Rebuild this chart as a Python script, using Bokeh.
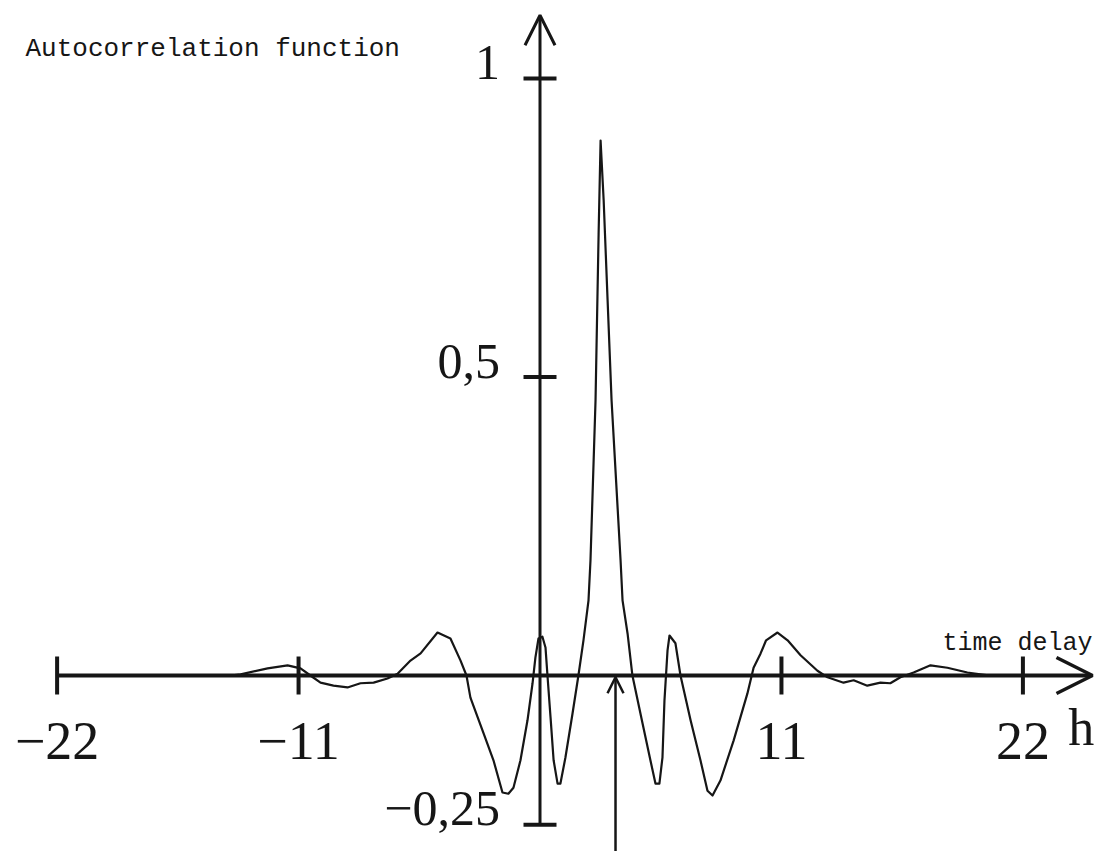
import numpy as np
from bokeh.plotting import figure
from bokeh.models import Arrow, OpenHead, Range1d
from bokeh.core.properties import value
from bokeh.embed import file_html
from bokeh.resources import INLINE

# ---- data ----
lag_h = [-14.10, -13.64, -12.41, -11.50, -10.91, -10.46, -10.00, -9.41, -8.77, -8.18,
         -7.58, -6.95, -6.49, -5.90, -5.44, -4.67, -4.08, -3.62, -3.35, -3.17,
         -2.57, -2.12, -1.71, -1.44, -1.21, -0.89, -0.57, -0.34, -0.21, -0.07,
         0.11, 0.25, 0.34, 0.48, 0.62, 0.80, 0.93, 1.16, 1.48, 1.75,
         1.98, 2.21, 2.30, 2.53, 2.67, 2.76, 2.90, 3.08, 3.26, 3.67,
         3.76, 3.99, 4.21, 4.67, 5.03, 5.26, 5.44, 5.58, 5.67, 5.81,
         5.90, 6.17, 6.40, 6.86, 7.31, 7.63, 7.86, 8.22, 8.82, 9.45,
         9.73, 10.05, 10.30, 10.82, 11.28, 11.87, 12.64, 13.10, 13.83, 14.29,
         14.91, 15.51, 15.96, 16.42, 17.02, 17.79, 18.56, 19.47, 20.06, 20.52]
acf_values = [0.000, 0.002, 0.012, 0.017, 0.012, 0.000, -0.012, -0.017, -0.020, -0.013,
              -0.012, -0.005, 0.003, 0.025, 0.037, 0.072, 0.062, 0.025, 0.000, -0.037,
              -0.097, -0.142, -0.196, -0.198, -0.188, -0.142, -0.075, -0.013, 0.030, 0.062,
              0.065, 0.047, 0.000, -0.070, -0.142, -0.181, -0.181, -0.137, -0.064, 0.000,
              0.059, 0.126, 0.193, 0.461, 0.740, 0.896, 0.796, 0.628, 0.461, 0.193,
              0.126, 0.070, 0.000, -0.080, -0.142, -0.181, -0.181, -0.137, -0.042, 0.042,
              0.067, 0.054, 0.000, -0.075, -0.142, -0.193, -0.201, -0.176, -0.109, -0.030,
              0.013, 0.037, 0.059, 0.072, 0.059, 0.034, 0.008, -0.003, -0.012, -0.008,
              -0.017, -0.012, -0.013, -0.003, 0.005, 0.017, 0.013, 0.005, 0.002, 0.000]

x_ticks = [-22, -11, 11, 22]
x_tick_labels = ["\u221222", "\u221211", "11", "22"]
y_ticks = [1.0, 0.5, -0.25]
y_tick_labels = ["1", "0,5", "\u22120,25"]
y_label = "Autocorrelation function"
x_label = "time delay"
x_unit = "h"
marker_lag = 3.44

INK = "#161616"
SERIF = value("Liberation Serif")
MONO = value("Liberation Mono")

p = figure(width=1096, height=851, output_backend="svg", toolbar_location=None,
           x_axis_location=None, y_axis_location=None, min_border=0,
           x_range=Range1d(-24.579, 25.353), y_range=Range1d(-0.2948, 1.1307))
p.outline_line_color = None
p.grid.visible = False
p.background_fill_color = "white"
p.border_fill_color = "white"

# curve
p.line(lag_h, acf_values, line_color=INK, line_width=2.2, line_join="round")

# axes with arrows
p.add_layout(Arrow(x_start=x_ticks[0], y_start=0, x_end=25.17, y_end=0,
                   line_color=INK, line_width=4,
                   end=OpenHead(size=36, line_color=INK, line_width=3.5)))
p.add_layout(Arrow(x_start=0, y_start=y_ticks[-1], x_end=0, y_end=1.106,
                   line_color=INK, line_width=3,
                   end=OpenHead(size=30, line_color=INK, line_width=3)))
p.add_layout(Arrow(x_start=marker_lag, y_start=-0.33, x_end=marker_lag, y_end=-0.003,
                   line_color=INK, line_width=2.5,
                   end=OpenHead(size=16, line_color=INK, line_width=2.5)))

# ticks
p.scatter(x=x_ticks, y=[0] * len(x_ticks), marker="dash", size=38, angle=np.pi / 2,
          line_color=INK, line_width=4)
p.scatter(x=[0] * len(y_ticks), y=y_ticks, marker="dash", size=33,
          line_color=INK, line_width=4)

# tick labels
p.text(x=x_ticks, y=[0] * len(x_ticks), text=x_tick_labels, y_offset=65,
       text_align="center", text_baseline="alphabetic", text_font=SERIF,
       text_font_size="54px", text_color=INK)
p.text(x=[0] * len(y_ticks), y=y_ticks, text=y_tick_labels, x_offset=-40, y_offset=-16,
       text_align="right", text_baseline="alphabetic", text_font=SERIF,
       text_font_size="50px", text_color=INK)

# axis titles
p.text(x=[24.07], y=[0], text=[x_unit], y_offset=52, text_align="left",
       text_baseline="alphabetic", text_font=SERIF, text_font_size="52px", text_color=INK)
p.text(x=[18.34], y=[0], text=[x_label], y_offset=-32, text_align="left",
       text_baseline="alphabetic", text_font=MONO, text_font_size="25px", text_color=INK)
p.text(x=[-23.44], y=[1.035], text=[y_label], y_offset=-9, text_align="left",
       text_baseline="alphabetic", text_font=MONO, text_font_size="26px", text_color=INK)

open("out.html", "w").write(file_html(p, INLINE))
